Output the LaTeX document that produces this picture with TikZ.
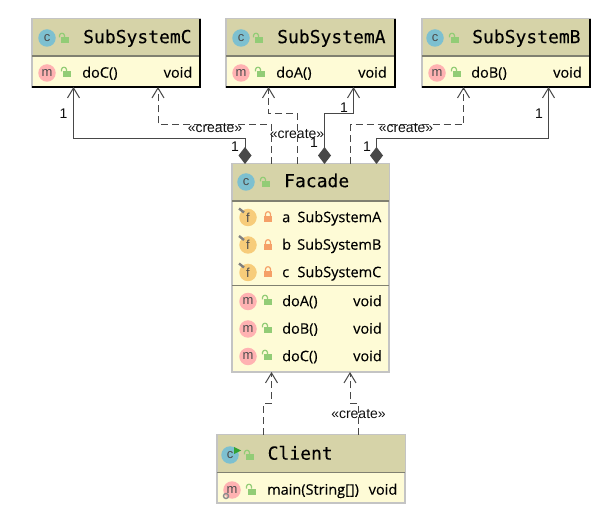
\documentclass[tikz,border=0pt]{standalone}
\usepackage{fontspec}
\setmainfont{Open Sans}
\newfontfamily\memberfont[FakeBold=0.25]{Open Sans}
\newfontfamily\titlefont[FakeBold=0.15]{DejaVu Sans Mono}
\newfontfamily\labelfont{Liberation Sans}
\usetikzlibrary{arrows.meta,positioning,calc}
\definecolor{headfill}{RGB}{214,211,168}
\definecolor{bodyfill}{RGB}{254,251,214}
\definecolor{edgegrey}{RGB}{196,196,196}
\definecolor{rulegrey}{RGB}{128,128,112}
\definecolor{linkgrey}{RGB}{72,72,72}
\definecolor{classblue}{RGB}{125,192,208}
\definecolor{methodpink}{RGB}{255,178,178}
\definecolor{fieldgold}{RGB}{247,204,122}
\definecolor{lockgreen}{RGB}{146,204,118}
\definecolor{lockorange}{RGB}{245,160,104}
\tikzset{
  classbox/.style={draw=edgegrey,line width=1.2pt,fill=bodyfill,anchor=north west,inner sep=0pt,outer sep=0pt,minimum width=#1},
  headbox/.style={fill=headfill,anchor=north west,inner sep=0pt,outer sep=0pt,minimum width=#1,minimum height=37pt},
  classname/.style={anchor=mid west,inner sep=0pt,yshift=-3.5pt,font=\titlefont\fontsize{18}{20}\selectfont},
  member/.style={anchor=mid west,inner sep=0pt,yshift=-2pt,font=\memberfont\fontsize{14.5}{16}\selectfont},
  memtype/.style={anchor=mid east,inner sep=0pt,yshift=-2pt,font=\memberfont\fontsize{14.5}{16}\selectfont},
  iconc/.style={circle,fill=classblue,minimum size=17.5pt,inner sep=0pt,text=black!70,font=\labelfont\fontsize{13}{13}\selectfont},
  iconm/.style={iconc,fill=methodpink},
  iconf/.style={iconc,fill=fieldgold},
  linklabel/.style={inner sep=0pt,yshift=-0.5pt,text=black!95,font=\labelfont\fontsize{14}{16}\selectfont},
  uses/.style={draw=linkgrey,line width=1pt,dash pattern=on 7pt off 4pt,-{Straight Barb[length=10pt,width=12pt]}},
  owns/.style={draw=linkgrey,line width=1pt,{Diamond[length=17pt,width=13pt,fill=linkgrey]}-{Straight Barb[length=10pt,width=12pt]}},
  openlock/.pic={
    \fill[lockgreen] (-3.5,-1.5) rectangle (4.5,4.5);
    \draw[lockgreen,line width=1.2pt] (-4.5,-1.5) -- (-4.5,-3.5) .. controls (-4.5,-6.5) and (0.5,-6.5) .. (0.5,-3.5) -- (0.5,-1.5);
  },
  shutlock/.pic={
    \fill[lockorange] (-4,-1) rectangle (4,5);
    \draw[lockorange,line width=1.2pt] (-2.5,-1) -- (-2.5,-3) .. controls (-2.5,-6) and (2.5,-6) .. (2.5,-3) -- (2.5,-1);
  },
  fieldpin/.pic={
    \draw[black!50,line width=2.4pt] (-9,-9) -- (-4,-5);
  },
}

\begin{document}
\begin{tikzpicture}[x=1pt,y=-1pt]
\useasboundingbox (0,0) rectangle (611,521);
% subsystem classes
\node[classbox=168pt,minimum height=68pt] (sysC) at (32,19) {};
\node[headbox=167pt] (headC) at (32.5,19.5) {};
\draw[rulegrey,line width=1.6pt] (32,56) -- (200,56);
\draw[black,line width=1.2pt] (sysC.south west) -- (sysC.south east) -- (sysC.north east);
\node[iconc] (iconC) at (47,38) {c};
\pic at (64,39) {openlock};
\node[classname] (nameC) at (83,37) {SubSystemC};
\node[iconm] (iconDoC) at (47,73) {m};
\pic at (66,73) {openlock};
\node[member] (doC) at (82,73) {doC()};
\node[memtype] (voidC) at (192.5,73) {void};

\node[classbox=169pt,minimum height=68pt] (sysA) at (226,19) {};
\node[headbox=168pt] (headA) at (226.5,19.5) {};
\draw[rulegrey,line width=1.6pt] (226,56) -- (395,56);
\draw[black,line width=1.2pt] (sysA.south west) -- (sysA.south east) -- (sysA.north east);
\node[iconc] (iconA) at (241,38) {c};
\pic at (258,39) {openlock};
\node[classname] (nameA) at (277,37) {SubSystemA};
\node[iconm] (iconDoA) at (241,73) {m};
\pic at (260,73) {openlock};
\node[member] (doA) at (276,73) {doA()};
\node[memtype] (voidA) at (387,73) {void};

\node[classbox=168pt,minimum height=68pt] (sysB) at (422,19) {};
\node[headbox=167pt] (headB) at (422.5,19.5) {};
\draw[rulegrey,line width=1.6pt] (422,56) -- (590,56);
\draw[black,line width=1.2pt] (sysB.south west) -- (sysB.south east) -- (sysB.north east);
\node[iconc] (iconB) at (435,38) {c};
\pic at (454,39) {openlock};
\node[classname] (nameB) at (472,37) {SubSystemB};
\node[iconm] (iconDoB) at (437,73) {m};
\pic at (456,73) {openlock};
\node[member] (doB) at (471,73) {doB()};
\node[memtype] (voidB) at (582,73) {void};

% facade
\node[classbox=157pt,minimum height=208pt] (facade) at (232,164) {};
\node[headbox=156pt] (headF) at (232.5,164.5) {};
\draw[rulegrey,line width=1.6pt] (232,201) -- (389,201);
\draw[rulegrey,line width=1pt] (232,285.5) -- (389,285.5);
\node[iconc] (iconF) at (246,182) {c};
\pic at (265,183) {openlock};
\node[classname] (nameF) at (284,181) {Facade};
\node[iconf] (iconFa) at (248,217.5) {f};
\pic at (248,217.5) {fieldpin};
\pic at (268,217) {shutlock};
\node[member] (fieldA) at (282,217.5) {a};
\node[memtype] (typeA) at (381.5,217.5) {SubSystemA};
\node[iconf] (iconFb) at (248,245) {f};
\pic at (248,245) {fieldpin};
\pic at (268,245) {shutlock};
\node[member] (fieldB) at (282,245) {b};
\node[memtype] (typeB) at (381.5,245) {SubSystemB};
\node[iconf] (iconFc) at (248,272.5) {f};
\pic at (248,272.5) {fieldpin};
\pic at (268,272) {shutlock};
\node[member] (fieldC) at (282,272.5) {c};
\node[memtype] (typeC) at (381.5,272.5) {SubSystemC};
\node[iconm] (iconFdoA) at (248,301.5) {m};
\pic at (267,301) {openlock};
\node[member] (facadeDoA) at (282,301.5) {doA()};
\node[memtype] (facadeVoidA) at (382,301.5) {void};
\node[iconm] (iconFdoB) at (248,329) {m};
\pic at (267,329) {openlock};
\node[member] (facadeDoB) at (282,329) {doB()};
\node[memtype] (facadeVoidB) at (382,329) {void};
\node[iconm] (iconFdoC) at (248,356.5) {m};
\pic at (267,356) {openlock};
\node[member] (facadeDoC) at (282,356.5) {doC()};
\node[memtype] (facadeVoidC) at (382,356.5) {void};

% client
\node[classbox=188pt,minimum height=68pt] (client) at (217,435) {};
\node[headbox=187pt] (headK) at (217.5,435.5) {};
\draw[rulegrey,line width=1.6pt] (217,472.5) -- (405,472.5);
\node[iconc] (iconK) at (230,455) {c};
\fill[green!55!black!80] (234,447) -- (241,450.5) -- (234,454) -- cycle;
\pic at (249,456) {openlock};
\node[classname] (nameK) at (267.5,453.5) {Client};
\node[iconm] (iconMain) at (232,490) {m};
\draw[black!45,line width=1.4pt] (226,496) circle (2.5);
\pic at (251,490) {openlock};
\node[member] (mainK) at (267,490) {main(String[])};
\node[memtype] (voidK) at (397.5,490) {void};

% connectors
\draw[owns] ([xshift=-65.5pt]facade.north) -- ++(0,-25.5) -| ([xshift=-42.5pt]sysC.south);
\draw[uses] ([xshift=-39pt]facade.north) -- ++(0,-39) -| ([xshift=42pt]sysC.south);
\draw[uses] ([xshift=-13pt]facade.north) -- ++(0,-50.5) -| ([xshift=-42pt]sysA.south);
\draw[owns] ([xshift=14pt]facade.north) -- ++(0,-50.5) -| ([xshift=43pt]sysA.south);
\draw[uses] ([xshift=40pt]facade.north) -- ++(0,-39) -| ([xshift=-42.5pt]sysB.south);
\draw[owns] ([xshift=66pt]facade.north) -- ++(0,-25.5) -| ([xshift=42.5pt]sysB.south);
\draw[uses] ([xshift=-47.5pt]client.north) -- ++(0,-31.5) -| ([xshift=-39pt]facade.south);
\draw[uses] ([xshift=47.5pt]client.north) -- ++(0,-31.5) -| ([xshift=39.5pt]facade.south);

% labels
\node[linklabel] (oneC) at (63.5,113) {1};
\node[linklabel] (oneCf) at (235,146) {1};
\node[linklabel] (oneA) at (344,107) {1};
\node[linklabel] (oneAf) at (314,142) {1};
\node[linklabel] (oneB) at (539,113) {1};
\node[linklabel] (oneBf) at (367,146) {1};
\node[linklabel] (createC) at (215,128) {«create»};
\node[linklabel] (createA) at (297,134) {«create»};
\node[linklabel] (createB) at (406,128) {«create»};
\node[linklabel] (createK) at (358.5,414) {«create»};
\end{tikzpicture}
\end{document}
